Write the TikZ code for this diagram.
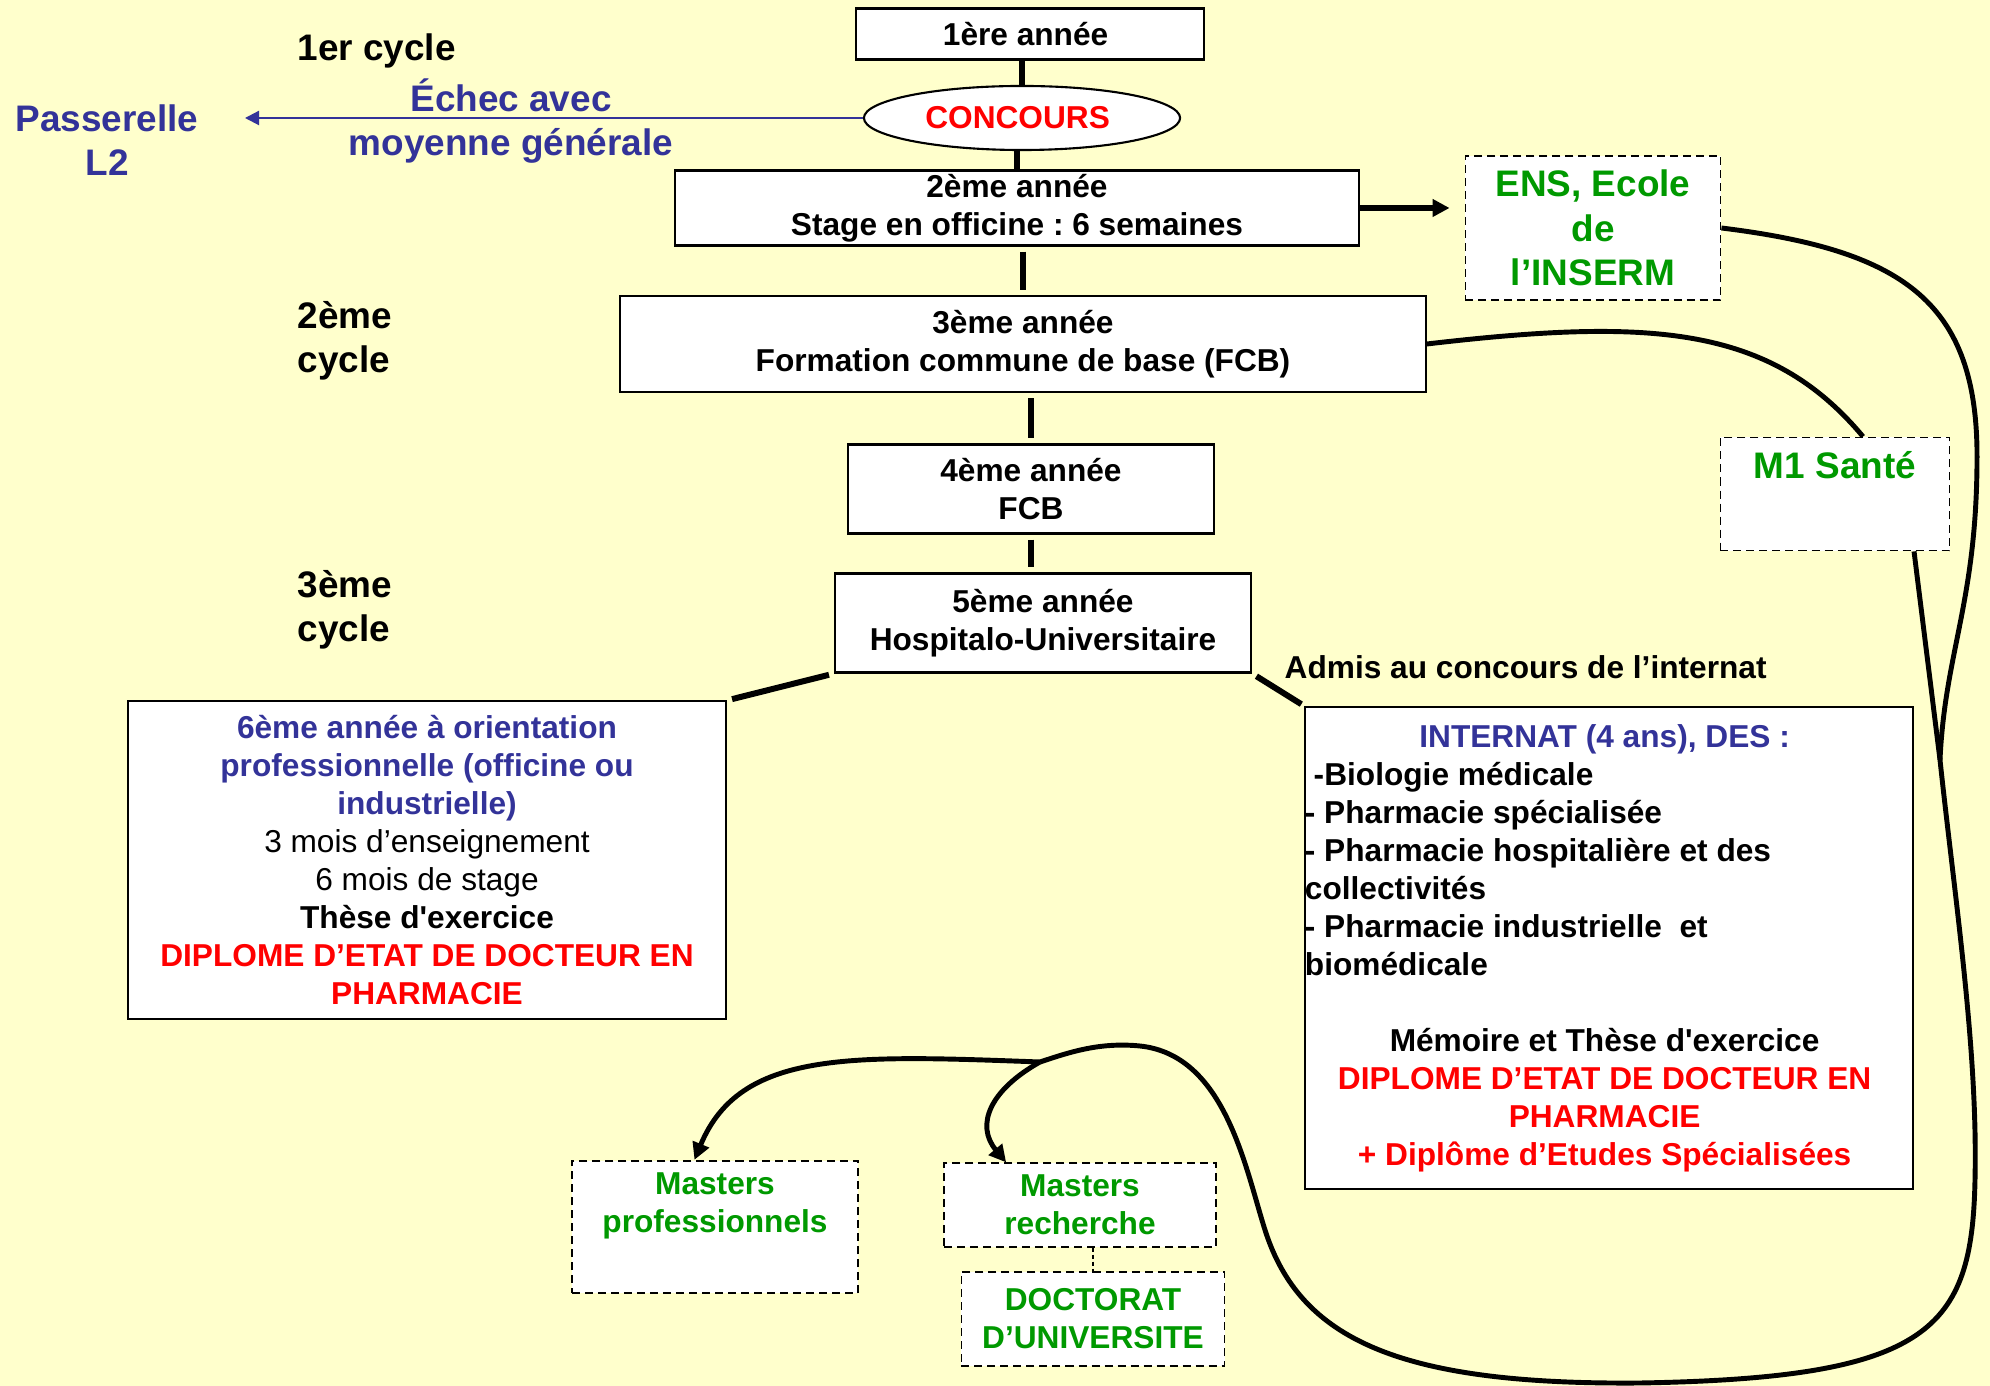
\documentclass[tikz,border=0pt]{standalone}
\usepackage{fontspec}
\setmainfont{Liberation Sans}
\usetikzlibrary{arrows.meta, shapes.geometric}
\frenchspacing

\definecolor{bgyellow}{RGB}{255,255,204}
\definecolor{dblue}{RGB}{51,51,153}
\definecolor{dgreen}{RGB}{0,153,0}

\begin{document}
\begin{tikzpicture}[x = 0.01cm, y = -0.01cm, every node/.style = {font = \fontsize{9}{10.8}\selectfont\bfseries, align = center}, yearbox/.style = {draw, fill = white, line width = 0.6pt, inner ysep = 0.5pt}, extbox/.style = {draw, fill = white, line width = 0.5pt, dash pattern = on 0.08cm off 0.05cm, text = dgreen}, tag/.style = {inner sep = 0pt, font = \fontsize{10.5}{12.6}\selectfont\bfseries}, bar/.style = {line width = 1.7pt}, route/.style = {line width = 1.4pt}, tip/.style = {-{Triangle[length = 0.17cm, width = 0.17cm]}}]

  \fill[bgyellow] (0, 0) rectangle (1990, 1386);
  \useasboundingbox (0, 0) rectangle (1990, 1386);

  \node[tag, anchor = west] (c1) at (297, 51) { 1er cycle };
  \node[tag, anchor = west, align = left] (c2) at (297, 341) { 2ème\\cycle };
  \node[tag, anchor = west, align = left] (c3) at (297, 610) { 3ème\\cycle };
  \node[tag, text = dblue] (passerelle) at (107, 140) { Passerelle\\L2 };
  \node[tag, text = dblue] (echec) at (511, 121) { Échec avec\\moyenne générale };

  \node[yearbox, minimum width = 3.47cm, minimum height = 0.51cm] (y1) at (1030, 34) { 1ère année };
  \node[ellipse, draw, fill = white, line width = 0.6pt, inner sep = 0pt, minimum width = 3.16cm, minimum height = 0.64cm, text = red] (concours) at (1022, 118) { CONCOURS };
  \node[yearbox, minimum width = 6.83cm, minimum height = 0.75cm] (y2) at (1017, 208) { 2ème année\\Stage en officine : 6 semaines };
  \node[yearbox, minimum width = 8.05cm, minimum height = 0.96cm] (y3) at (1023, 344) { 3ème année\\Formation commune de base (FCB) };
  \node[yearbox, minimum width = 3.65cm, minimum height = 0.89cm] (y4) at (1031, 489) { 4ème année\\FCB };
  \node[yearbox, minimum width = 4.16cm, minimum height = 0.99cm] (y5) at (1043, 623) { 5ème année\\Hospitalo-Universitaire };

  \node[extbox, tag, minimum width = 2.55cm, minimum height = 1.44cm] (ens) at (1593, 228) { ENS, Ecole\\de\\l’INSERM };
  \node[extbox, tag, minimum width = 2.29cm, minimum height = 1.13cm] (m1) at (1835, 494) { M1 Santé\\\strut };

  \node[yearbox, minimum width = 5.98cm, minimum height = 3.17cm] (y6) at (427, 860) { {\color{dblue}6ème année à orientation}\\{\color{dblue}professionnelle (officine ou}\\{\color{dblue}industrielle)}\\{\mdseries 3 mois d’enseignement}\\{\mdseries 6 mois de stage}\\Thèse d\textquotesingle exercice\\{\color{red}DIPLOME D’ETAT DE DOCTEUR EN}\\{\color{red}PHARMACIE} };

  \node[inner sep = 0pt, anchor = west] (admis) at (1284, 667) { Admis au concours de l’internat };
  \node[yearbox, inner sep = 0pt, minimum width = 5.99cm, minimum height = 4.82cm] (internat) at (1609, 948) {
    \begin{minipage}{5.99cm}
      {\centering\textcolor{dblue}{INTERNAT (4 ans), DES :}\par}
      {\raggedright\ -Biologie médicale\\- Pharmacie spécialisée\\- Pharmacie hospitalière et des\\collectivités\\- Pharmacie industrielle\ \ et\\biomédicale\par}
      \vspace{10.8pt}
      {\centering Mémoire et Thèse d\textquotesingle exercice\\\color{red}DIPLOME D’ETAT DE DOCTEUR EN\\PHARMACIE\\+ Diplôme d’Etudes Spécialisées\par}
    \end{minipage} };

  \node[extbox, minimum width = 2.86cm, minimum height = 1.17cm] (mpro) at (715, 1227) { Masters\\professionnels\\\strut };
  \node[extbox, minimum width = 2.72cm, minimum height = 0.80cm] (mrech) at (1080, 1205) { Masters\\recherche };
  \node[extbox, minimum width = 2.63cm, minimum height = 0.94cm] (doct) at (1093, 1319) { DOCTORAT\\D’UNIVERSITE };

  \coordinate (ptip) at (245, 118);
  \coordinate (merge) at (1940, 760);
  \coordinate (jct) at (1040, 1062);

  \draw[dblue, line width = 0.6pt, -{Triangle[length = 0.14cm, width = 0.14cm]}] (concours.west) -- (ptip);

  \draw[bar] (concours.north |- y1.south) -- (concours.north);
  \draw[bar] (y2.north |- concours.south) -- (y2.north);
  \draw[bar, shorten <= 0.05cm, shorten >= 0.05cm] (y3.north |- y2.south) -- (y3.north);
  \draw[bar, shorten <= 0.05cm, shorten >= 0.05cm] (y4.north |- y3.south) -- (y4.north);
  \draw[bar, shorten <= 0.05cm, shorten >= 0.05cm] (y4.south) -- (y4.south |- y5.north);
  \draw[bar, shorten <= 0.05cm, shorten >= 0.05cm] (y5.south west) -- (y6.north east);
  \draw[bar, shorten <= 0.05cm, shorten >= 0.03cm] (y5.south east) -- (internat.north west);
  \draw[bar, tip, shorten >= 0.15cm] (y2.east) -- (ens.west |- y2.east);

  \draw[route] (y3.east) .. controls (1650, 318) and (1770, 325) .. (m1.64);
  \draw[route] (ens.east) .. controls (1900, 250) and (1975, 300) .. (1977, 450) .. controls (1978, 600) and (1945, 650) .. (merge);
  \draw[route] (m1.-36) -- (merge) .. controls (1955, 900) and (1978, 1050) .. (1975, 1180) .. controls (1972, 1330) and (1930, 1378) .. (1640, 1383) .. controls (1400, 1385) and (1300, 1340) .. (1265, 1230) .. controls (1245, 1167) and (1225, 1055) .. (1140, 1046) .. controls (1100, 1042) and (1070, 1052) .. (jct);
  \draw[route, tip] (jct) .. controls (850, 1055) and (740, 1050) .. (mpro.107);
  \draw[route, tip] (jct) .. controls (990, 1090) and (975, 1125) .. (mrech.150);
  \draw[line width = 0.4pt, dash pattern = on 0.04cm off 0.03cm] (doct.north |- mrech.south) -- (doct.north);

\end{tikzpicture}
\end{document}
